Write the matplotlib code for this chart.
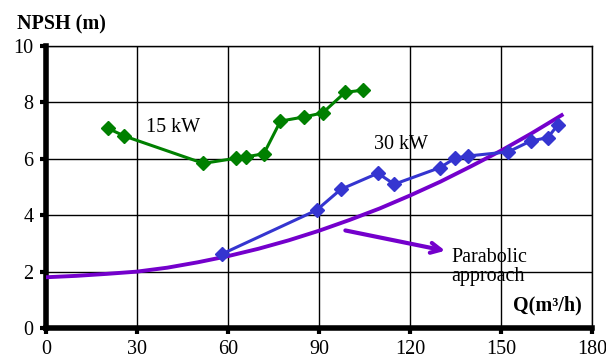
import matplotlib
matplotlib.use('Agg')
import matplotlib.pyplot as plt

# 15 kW pump
q15 = [20.5, 25.8, 51.9, 62.5, 65.8, 71.8, 77.3, 85.2, 91.2, 98.6, 104.6]
npsh15 = [7.08, 6.81, 5.84, 6.02, 6.07, 6.18, 7.34, 7.49, 7.63, 8.36, 8.44]

# 30 kW pump
q30 = [57.9, 89.2, 97.2, 109.4, 114.8, 129.9, 134.8, 139.0, 152.4, 159.9, 165.4, 168.7]
npsh30 = [2.62, 4.18, 4.92, 5.49, 5.10, 5.69, 6.02, 6.10, 6.25, 6.64, 6.75, 7.20]

# parabolic approach
q_par = [0, 10, 20, 30, 40, 50, 60, 70, 80, 90, 100, 110, 120, 130, 140, 150, 160, 170]
npsh_par = [1.80, 1.85, 1.92, 2.00, 2.14, 2.33, 2.55, 2.81, 3.11, 3.45, 3.83, 4.24,
            4.70, 5.19, 5.73, 6.29, 6.90, 7.55]

xticks = [0, 30, 60, 90, 120, 150, 180]
yticks = [0, 2, 4, 6, 8, 10]

green = '#008000'
blue = '#3535D0'
purple = '#7400CC'

plt.rcParams['font.family'] = ['Liberation Serif', 'DejaVu Serif']

fig = plt.figure(figsize=(6.06, 3.6), dpi=100)
ax = fig.add_axes([0.0759, 0.0889, 0.901, 0.783])

ax.plot(q_par, npsh_par, color=purple, lw=2.8, zorder=3, solid_joinstyle='round')
ax.plot(q15, npsh15, color=green, lw=2.2, marker='D', markersize=7, zorder=4)
ax.plot(q30, npsh30, color=blue, lw=2.2, marker='D', markersize=7, zorder=4)

ax.set_xlim(0, 180)
ax.set_ylim(0, 10)
ax.set_xticks(xticks)
ax.set_yticks(yticks)
ax.tick_params(labelsize=14.5, length=4, width=3, direction='out', pad=5)
ax.grid(True, color='black', lw=1)
ax.set_axisbelow(True)

ax.spines['left'].set_linewidth(4)
ax.spines['bottom'].set_linewidth(4)
ax.spines['top'].set_linewidth(1)
ax.spines['right'].set_linewidth(1)

# labels
fig.text(0.028, 0.933, 'NPSH (m)', fontsize=14.5, fontweight='bold', ha='left', va='center')
ax.text(176.5, 0.8, 'Q(m³/h)', fontsize=14.5, fontweight='bold', ha='right', va='center')
ax.text(42, 7.1, '15 kW', fontsize=14.5, ha='center', va='center')
ax.text(117, 6.5, '30 kW', fontsize=14.5, ha='center', va='center')
ax.text(133.5, 2.16, 'Parabolic\napproach', fontsize=14.5, ha='left', va='center',
        linespacing=1.05)

ax.annotate('', xy=(132.5, 2.72), xytext=(97.8, 3.48),
            arrowprops=dict(arrowstyle='->', color=purple, lw=3,
                            mutation_scale=18))

plt.savefig('out.png', dpi=100)
